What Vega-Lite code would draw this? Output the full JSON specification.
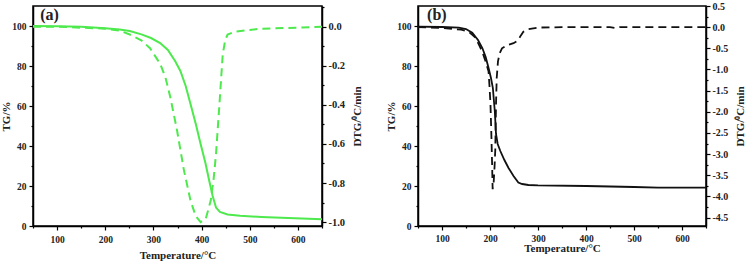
{
  "$schema": "https://vega.github.io/schema/vega-lite/v6.json",
  "padding": {"left": 0, "top": 0, "right": 0, "bottom": 0},
  "background": "white",
  "spacing": 21,
  "config": {
    "font": "Liberation Serif",
    "view": {"stroke": "black", "strokeWidth": 1.5},
    "axis": {
      "labelFont": "Liberation Serif", "labelFontWeight": "bold", "labelFontSize": 9.5, "labelColor": "#222",
      "titleFont": "Liberation Serif", "titleFontWeight": "bold", "titleFontSize": 11, "titleColor": "#222",
      "domainColor": "black", "domainWidth": 1.5, "tickColor": "black", "tickWidth": 1.2, "grid": false, "labelPadding": 3,
      "labelOverlap": false
    }
  },
  "datasets": {
    "a_tg": [
      {"T": 50, "TG": 100}, {"T": 100, "TG": 99.9}, {"T": 150, "TG": 99.6}, {"T": 200, "TG": 98.9},
      {"T": 230, "TG": 98.2}, {"T": 251, "TG": 97.5}, {"T": 275, "TG": 95.8}, {"T": 295, "TG": 94},
      {"T": 314, "TG": 91.5}, {"T": 330, "TG": 88}, {"T": 345, "TG": 82.5}, {"T": 356, "TG": 77.5},
      {"T": 367, "TG": 70}, {"T": 377, "TG": 61}, {"T": 388, "TG": 51}, {"T": 398, "TG": 41},
      {"T": 408, "TG": 31.5}, {"T": 416, "TG": 22.5}, {"T": 423, "TG": 15}, {"T": 430, "TG": 9.2},
      {"T": 438, "TG": 7}, {"T": 454, "TG": 5.8}, {"T": 480, "TG": 5.1}, {"T": 524, "TG": 4.5},
      {"T": 580, "TG": 4}, {"T": 650, "TG": 3.4}
    ],
    "a_dtg": [
      {"T": 50, "DTG": 0}, {"T": 100, "DTG": 0}, {"T": 150, "DTG": -0.005}, {"T": 200, "DTG": -0.01},
      {"T": 230, "DTG": -0.02}, {"T": 251, "DTG": -0.04}, {"T": 275, "DTG": -0.07}, {"T": 293, "DTG": -0.11},
      {"T": 314, "DTG": -0.19}, {"T": 325, "DTG": -0.26}, {"T": 335, "DTG": -0.36}, {"T": 349, "DTG": -0.53},
      {"T": 363, "DTG": -0.73}, {"T": 377, "DTG": -0.89}, {"T": 388, "DTG": -0.97}, {"T": 398, "DTG": -1.0},
      {"T": 409, "DTG": -0.98}, {"T": 419, "DTG": -0.89}, {"T": 425, "DTG": -0.78}, {"T": 430, "DTG": -0.65},
      {"T": 437, "DTG": -0.4}, {"T": 441, "DTG": -0.25}, {"T": 444, "DTG": -0.14}, {"T": 449, "DTG": -0.07},
      {"T": 454, "DTG": -0.04}, {"T": 470, "DTG": -0.025}, {"T": 524, "DTG": -0.01}, {"T": 600, "DTG": -0.005},
      {"T": 650, "DTG": 0}
    ],
    "b_tg": [
      {"T": 50, "TG": 99.7}, {"T": 100, "TG": 99.5}, {"T": 135, "TG": 99.2}, {"T": 150, "TG": 98.5},
      {"T": 163, "TG": 96.7}, {"T": 175, "TG": 93}, {"T": 184, "TG": 89}, {"T": 191, "TG": 84.5},
      {"T": 197, "TG": 79}, {"T": 202, "TG": 74}, {"T": 206, "TG": 69}, {"T": 208, "TG": 63},
      {"T": 210, "TG": 57.5}, {"T": 212.5, "TG": 46}, {"T": 216, "TG": 41}, {"T": 221.5, "TG": 37.5},
      {"T": 230, "TG": 33}, {"T": 238.6, "TG": 29}, {"T": 249, "TG": 25}, {"T": 259, "TG": 21.7},
      {"T": 267, "TG": 21}, {"T": 280, "TG": 20.5}, {"T": 300, "TG": 20.3}, {"T": 400, "TG": 20},
      {"T": 500, "TG": 19.5}, {"T": 550, "TG": 19.2}, {"T": 650, "TG": 19.2}
    ],
    "b_dtg": [
      {"T": 50, "DTG": 0}, {"T": 100, "DTG": -0.02}, {"T": 140, "DTG": -0.06}, {"T": 156, "DTG": -0.11},
      {"T": 170, "DTG": -0.25}, {"T": 184, "DTG": -0.58}, {"T": 192, "DTG": -0.85}, {"T": 197, "DTG": -1.05},
      {"T": 199, "DTG": -1.4}, {"T": 201, "DTG": -1.83}, {"T": 203, "DTG": -2.6}, {"T": 204.5, "DTG": -3.3},
      {"T": 205.5, "DTG": -3.83}, {"T": 207.5, "DTG": -3.7}, {"T": 209.5, "DTG": -3.3}, {"T": 211, "DTG": -2.9},
      {"T": 212.5, "DTG": -1.83}, {"T": 214, "DTG": -1.2}, {"T": 216.6, "DTG": -0.81}, {"T": 220, "DTG": -0.62},
      {"T": 225, "DTG": -0.5}, {"T": 235, "DTG": -0.43}, {"T": 249, "DTG": -0.38}, {"T": 255, "DTG": -0.34},
      {"T": 259, "DTG": -0.3}, {"T": 264, "DTG": -0.2}, {"T": 269.5, "DTG": -0.11}, {"T": 280, "DTG": -0.05},
      {"T": 300, "DTG": -0.01}, {"T": 350, "DTG": 0}, {"T": 450, "DTG": 0}, {"T": 460, "DTG": -0.02},
      {"T": 470, "DTG": 0}, {"T": 500, "DTG": 0}, {"T": 650, "DTG": 0}
    ]
  },
  "hconcat": [
    {
      "width": 289, "height": 220,
      "layer": [
        {
          "data": {"name": "a_tg"},
          "mark": {"type": "line", "color": "#4de94d", "strokeWidth": 2},
          "encoding": {
            "x": {"field": "T", "type": "quantitative", "title": "Temperature/°C", "scale": {"domain": [50, 650], "nice": false, "zero": false},
              "axis": {"orient": "bottom", "values": [100,200,300,400,500,600], "tickSize": 4, "labelPadding": 4, "titlePadding": 6}},
            "y": {"field": "TG", "type": "quantitative", "title": "TG/%", "scale": {"domain": [0, 110], "nice": false},
              "axis": {"values": [0,10,20,30,40,50,60,70,80,90,100],
                "labelExpr": "datum.value % 20 == 0 ? datum.label : ''",
                "tickSize": {"condition": {"test": "datum.value % 20 != 0", "value": 2}, "value": 4},
                "titlePadding": 0}}
          }
        },
        {
          "data": {"name": "a_dtg"},
          "mark": {"type": "line", "color": "#4de94d", "strokeWidth": 2, "strokeDash": [8, 5]},
          "encoding": {
            "x": {"field": "T", "type": "quantitative",
              "axis": {"orient": "bottom", "values": [50,150,250,350,450,550,650], "labels": false, "title": null, "domain": false, "tickSize": 2}},
            "y": {"field": "DTG", "type": "quantitative", "scale": {"domain": [-1.02, 0.106], "nice": false, "zero": false},
              "axis": {"orient": "right", "title": "DTG/⁰C/min", "titleAngle": 270, "titleBaseline": "top",
                "values": [0.1,0,-0.1,-0.2,-0.3,-0.4,-0.5,-0.6,-0.7,-0.8,-0.9,-1.0],
                "labelExpr": "round(datum.value*10) % 2 == 0 ? replace(format(datum.value, '.1f'), '\u2212', '-') : ''",
                "tickSize": {"condition": {"test": "round(datum.value*10) % 2 != 0", "value": 2}, "value": 4},
                "labelFontSize": 10.5, "labelPadding": 2, "titlePadding": 7}}
          }
        },
        {
          "data": {"values": [{"T": 65, "TG": 105.5, "label": "(a)"}]},
          "mark": {"type": "text", "fontSize": 16, "fontWeight": "bold", "font": "Liberation Serif", "align": "left", "baseline": "middle", "color": "#222"},
          "encoding": {
            "x": {"field": "T", "type": "quantitative", "axis": null},
            "y": {"field": "TG", "type": "quantitative", "scale": {"domain": [0, 110], "nice": false}, "axis": null},
            "text": {"field": "label"}
          }
        }
      ],
      "resolve": {"scale": {"y": "independent"}, "axis": {"x": "independent"}}
    },
    {
      "width": 288, "height": 220,
      "layer": [
        {
          "data": {"name": "b_tg"},
          "mark": {"type": "line", "color": "#111", "strokeWidth": 1.8},
          "encoding": {
            "x": {"field": "T", "type": "quantitative", "title": "Temperature/°C", "scale": {"domain": [50, 650], "nice": false, "zero": false},
              "axis": {"orient": "bottom", "values": [100,200,300,400,500,600], "tickSize": 4, "labelPadding": 3, "titlePadding": 0}},
            "y": {"field": "TG", "type": "quantitative", "title": "TG/%", "scale": {"domain": [0, 110], "nice": false},
              "axis": {"values": [0,10,20,30,40,50,60,70,80,90,100],
                "labelExpr": "datum.value % 20 == 0 ? datum.label : ''",
                "tickSize": {"condition": {"test": "datum.value % 20 != 0", "value": 2}, "value": 4},
                "titlePadding": 0}}
          }
        },
        {
          "data": {"name": "b_dtg"},
          "mark": {"type": "line", "color": "#111", "strokeWidth": 1.8, "strokeDash": [8, 5]},
          "encoding": {
            "x": {"field": "T", "type": "quantitative",
              "axis": {"orient": "bottom", "values": [50,150,250,350,450,550,650], "labels": false, "title": null, "domain": false, "tickSize": 2}},
            "y": {"field": "DTG", "type": "quantitative", "scale": {"domain": [-4.7, 0.5], "nice": false, "zero": false},
              "axis": {"orient": "right", "title": "DTG/⁰C/min", "titleAngle": 270, "titleBaseline": "top",
                "values": [0.5,0.25,0,-0.25,-0.5,-0.75,-1,-1.25,-1.5,-1.75,-2,-2.25,-2.5,-2.75,-3,-3.25,-3.5,-3.75,-4,-4.25,-4.5],
                "labelExpr": "round(datum.value*4) % 2 == 0 ? replace(format(datum.value, '.1f'), '\u2212', '-') : ''",
                "tickSize": {"condition": {"test": "round(datum.value*4) % 2 != 0", "value": 2}, "value": 4},
                "labelFontSize": 10, "labelPadding": 2, "titlePadding": 7}}
          }
        },
        {
          "data": {"values": [{"T": 69, "TG": 105.5, "label": "(b)"}]},
          "mark": {"type": "text", "fontSize": 16, "fontWeight": "bold", "font": "Liberation Serif", "align": "left", "baseline": "middle", "color": "#222"},
          "encoding": {
            "x": {"field": "T", "type": "quantitative", "axis": null},
            "y": {"field": "TG", "type": "quantitative", "scale": {"domain": [0, 110], "nice": false}, "axis": null},
            "text": {"field": "label"}
          }
        }
      ],
      "resolve": {"scale": {"y": "independent"}, "axis": {"x": "independent"}}
    }
  ]
}
